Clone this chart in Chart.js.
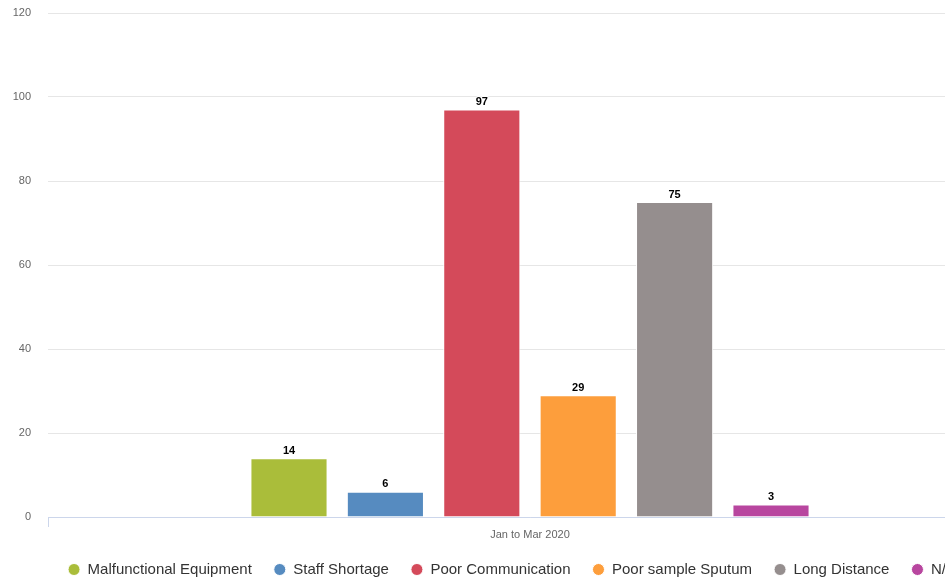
<!DOCTYPE html>
<html>
<head>
<meta charset="utf-8">
<script src="https://cdn.jsdelivr.net/npm/chart.js@4/dist/chart.umd.min.js"></script>
<style>
  html, body { margin: 0; padding: 0; background: #ffffff; overflow: hidden; }
  #wrap { position: relative; width: 1022px; height: 582px; }
</style>
</head>
<body>
<div id="wrap"><canvas id="chart"></canvas></div>
<script>
// Quarter shown on the category axis
const categories = ['Jan to Mar 2020'];

// One series per reason, each with a single value for the quarter
const seriesNames = ['Malfunctional Equipment', 'Staff Shortage', 'Poor Communication', 'Poor sample Sputum', 'Long Distance', 'N/A'];
const seriesValues = [14, 6, 97, 29, 75, 3];
const seriesColors = ['#aabd3a', '#568bc0', '#d44a5a', '#fd9e3c', '#958e8e', '#b8469f'];

// Value axis ticks
const yTicks = [0, 20, 40, 60, 80, 100, 120];

const FONT = '"Liberation Sans", Arial, Helvetica, sans-serif';

const datasets = seriesNames.map((name, i) => ({
  label: name,
  data: [seriesValues[i]],
  backgroundColor: seriesColors[i],
  borderColor: '#ffffff',
  borderWidth: 1,
  categoryPercentage: 0.6,
  barPercentage: 0.8
}));

// Value labels written above each bar
const valueLabels = {
  id: 'valueLabels',
  afterDatasetsDraw(chart) {
    const ctx = chart.ctx;
    ctx.save();
    ctx.font = 'bold 11px ' + FONT;
    ctx.textAlign = 'center';
    ctx.textBaseline = 'bottom';
    ctx.lineJoin = 'round';
    chart.data.datasets.forEach((ds, i) => {
      const meta = chart.getDatasetMeta(i);
      meta.data.forEach((bar, j) => {
        const txt = String(ds.data[j]);
        ctx.strokeStyle = '#ffffff';
        ctx.lineWidth = 2;
        ctx.strokeText(txt, bar.x, bar.y - 2);
        ctx.fillStyle = '#000000';
        ctx.fillText(txt, bar.x, bar.y - 2);
      });
    });
    ctx.restore();
  }
};

new Chart(document.getElementById('chart'), {
  type: 'bar',
  data: { labels: categories, datasets },
  plugins: [valueLabels],
  options: {
    responsive: true,
    maintainAspectRatio: false,
    animation: false,
    layout: { padding: { top: 13, right: 10, left: 12, bottom: -5 } },
    plugins: {
      tooltip: { enabled: false },
      legend: {
        position: 'bottom',
        labels: {
          usePointStyle: true,
          pointStyle: 'circle',
          boxWidth: 12,
          boxHeight: 8.5,
          padding: 22,
          color: '#333333',
          font: { family: FONT, size: 15 }
        }
      }
    },
    scales: {
      x: {
        offset: true,
        border: { display: true, color: '#ccd6eb', width: 1 },
        grid: { display: true, offset: true, drawOnChartArea: false, drawTicks: true, tickLength: 10, color: '#ccd6eb' },
        ticks: { color: '#666666', font: { family: FONT, size: 11 }, padding: 1 },
        afterFit(scale) { scale.height = 23; }
      },
      y: {
        min: 0,
        max: 120,
        afterBuildTicks(scale) { scale.ticks = yTicks.map(v => ({ value: v })); },
        border: { display: false },
        grid: { color: '#e6e6e6', drawTicks: true, tickLength: 15, tickColor: 'rgba(0,0,0,0)' },
        ticks: { color: '#666666', font: { family: FONT, size: 11 }, padding: 2 },
        afterFit(scale) { scale.width = 36; }
      }
    }
  }
});
</script>
</body>
</html>
